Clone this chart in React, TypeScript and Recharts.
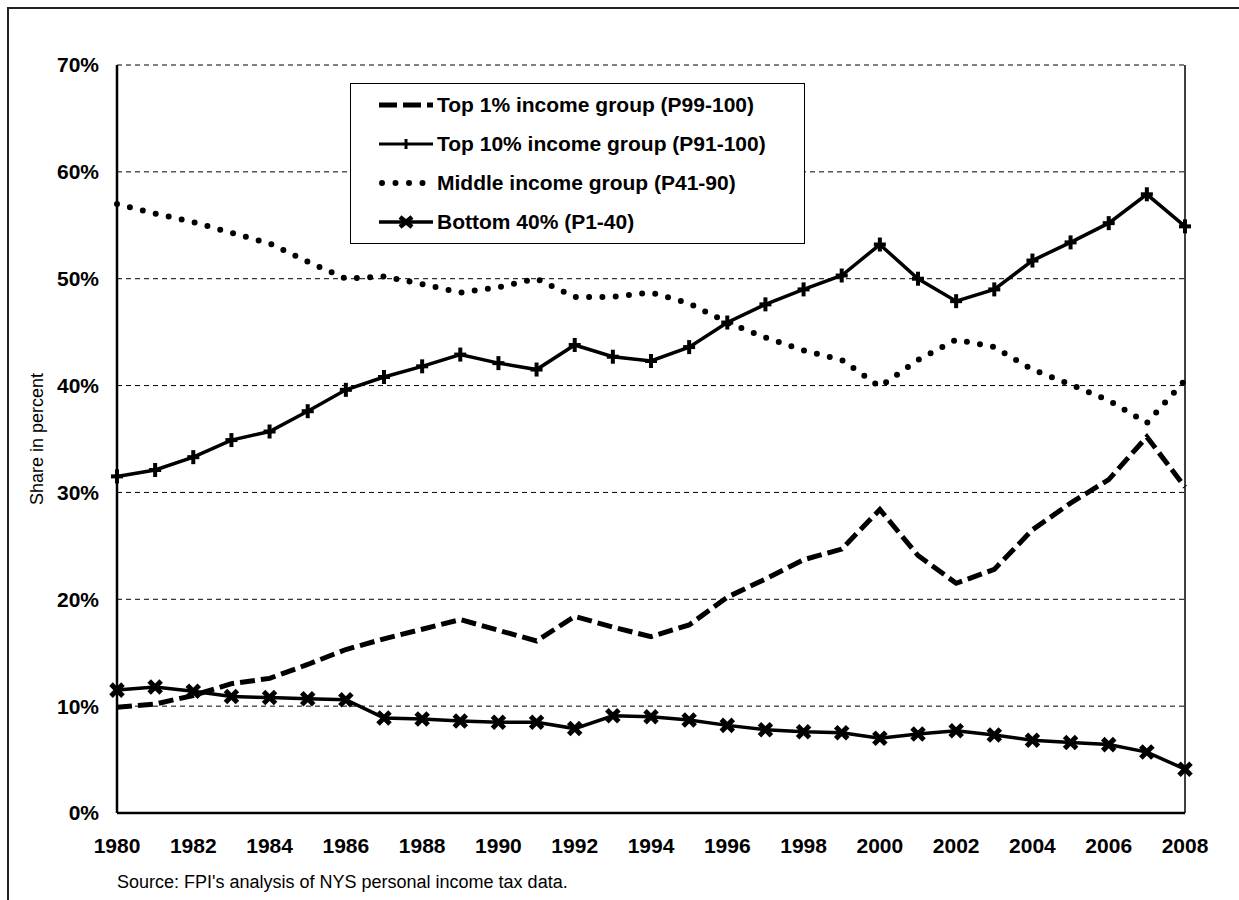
import React from 'react';
import { LineChart, Line, XAxis, YAxis, CartesianGrid, Legend, ReferenceLine } from 'recharts';

const years = [1980,1981,1982,1983,1984,1985,1986,1987,1988,1989,1990,1991,1992,1993,1994,1995,1996,1997,1998,1999,2000,2001,2002,2003,2004,2005,2006,2007,2008];
const top1 = [9.9,10.2,11.0,12.1,12.6,13.9,15.3,16.3,17.2,18.1,17.1,16.1,18.4,17.4,16.5,17.6,20.2,21.9,23.7,24.7,28.4,24.1,21.5,22.8,26.5,29.0,31.2,35.2,30.5];
const top10 = [31.5,32.1,33.3,34.9,35.7,37.6,39.6,40.8,41.8,42.9,42.1,41.5,43.8,42.7,42.3,43.6,45.9,47.6,49.0,50.3,53.2,50.0,47.9,49.0,51.7,53.4,55.2,57.9,54.9];
const middle = [57.0,56.1,55.3,54.3,53.3,51.6,50.0,50.2,49.5,48.7,49.2,50.0,48.3,48.3,48.7,47.7,45.9,44.5,43.3,42.4,39.9,42.4,44.3,43.6,41.5,40.1,38.6,36.5,40.5];
const bottom40 = [11.5,11.8,11.4,10.9,10.8,10.7,10.6,8.9,8.8,8.6,8.5,8.5,7.9,9.1,9.0,8.7,8.2,7.8,7.6,7.5,7.0,7.4,7.7,7.3,6.8,6.6,6.4,5.7,4.1];
const xTicks = [1980,1982,1984,1986,1988,1990,1992,1994,1996,1998,2000,2002,2004,2006,2008];
const yTicks = [0,10,20,30,40,50,60,70];
const seriesNames = ['Top 1% income group (P99-100)','Top 10% income group (P91-100)','Middle income group (P41-90)','Bottom 40% (P1-40)'];
const yLabel = 'Share in percent';
const sourceText = "Source: FPI's analysis of NYS personal income tax data.";

const data = years.map((y, i) => ({ year: y, top1: top1[i], top10: top10[i], middle: middle[i], bottom40: bottom40[i] }));

const FONT = '"Liberation Sans", Arial, sans-serif';

const PlusDot = (props: any) => {
  const { cx, cy, index } = props;
  if (cx == null || cy == null) return <g key={`pd-${index}`} />;
  return (
    <g key={`pd-${index}`}>
      <line x1={cx - 6} y1={cy} x2={cx + 6} y2={cy} stroke="#000" strokeWidth={4} />
      <line x1={cx} y1={cy - 7} x2={cx} y2={cy + 7} stroke="#000" strokeWidth={4} />
    </g>
  );
};

const XDot = (props: any) => {
  const { cx, cy, index } = props;
  if (cx == null || cy == null) return <g key={`xd-${index}`} />;
  const s = 6;
  return (
    <g key={`xd-${index}`}>
      <line x1={cx - s} y1={cy - s} x2={cx + s} y2={cy + s} stroke="#000" strokeWidth={5} />
      <line x1={cx - s} y1={cy + s} x2={cx + s} y2={cy - s} stroke="#000" strokeWidth={5} />
    </g>
  );
};

const LegendSymbol = ({ i }: { i: number }) => {
  const w = 54;
  const h = 20;
  const cy = h / 2;
  if (i === 0) {
    return (
      <svg width={w} height={h}>
        <line x1={0} y1={cy} x2={w} y2={cy} stroke="#000" strokeWidth={5} strokeDasharray="18 6 18 6 6" />
      </svg>
    );
  }
  if (i === 1) {
    return (
      <svg width={w} height={h}>
        <line x1={0} y1={cy} x2={w} y2={cy} stroke="#000" strokeWidth={3} />
        <line x1={w / 2} y1={cy - 5} x2={w / 2} y2={cy + 5} stroke="#000" strokeWidth={3} />
      </svg>
    );
  }
  if (i === 2) {
    return (
      <svg width={w} height={h}>
        <line x1={3} y1={cy} x2={w} y2={cy} stroke="#000" strokeWidth={6} strokeDasharray="0 13.5" strokeLinecap="round" />
      </svg>
    );
  }
  return (
    <svg width={w} height={h}>
      <line x1={0} y1={cy} x2={w} y2={cy} stroke="#000" strokeWidth={3.5} />
      <line x1={w / 2 - 6} y1={cy - 5} x2={w / 2 + 6} y2={cy + 5} stroke="#000" strokeWidth={4.5} />
      <line x1={w / 2 - 6} y1={cy + 5} x2={w / 2 + 6} y2={cy - 5} stroke="#000" strokeWidth={4.5} />
    </svg>
  );
};

const LegendBox = () => (
  <div style={{ width: 453, height: 158, border: '1.5px solid #000', background: '#fff', boxSizing: 'content-box', paddingTop: 1 }}>
    {seriesNames.map((n, i) => (
      <div key={n} style={{ display: 'flex', alignItems: 'center', height: 39, paddingLeft: 28 }}>
        <LegendSymbol i={i} />
        <span style={{ marginLeft: 4, fontFamily: FONT, fontWeight: 'bold', fontSize: 21, color: '#000', whiteSpace: 'nowrap' }}>{n}</span>
      </div>
    ))}
  </div>
);

const YLabel = (props: any) => {
  const vb = props.viewBox || {};
  const cy = (vb.y || 0) + (vb.height || 0) / 2;
  return (
    <text x={37} y={cy} transform={`rotate(-90, 37, ${cy})`} textAnchor="middle" dominantBaseline="central" fontFamily={FONT} fontSize={18} fill="#000">
      {yLabel}
    </text>
  );
};

export default function App() {
  return (
    <div style={{ position: 'absolute', left: 0, top: 0, width: 1239, height: 900, background: '#fff', overflow: 'hidden', fontFamily: FONT }}>
      <div style={{ position: 'absolute', left: 7, top: 7, width: 1300, height: 1000, borderLeft: '2px solid #222', borderTop: '2px solid #222' }} />
      <div style={{ position: 'absolute', left: 0, top: 0 }}>
        <LineChart width={1239} height={900} data={data} margin={{ top: 65, right: 54, bottom: 47, left: 0 }}>
          <CartesianGrid horizontal={true} vertical={false} stroke="#000" strokeWidth={1} strokeDasharray="5 4" />
          <XAxis
            dataKey="year"
            type="number"
            domain={[1980, 2008]}
            ticks={xTicks}
            interval={0}
            height={40}
            tickLine={false}
            tickSize={0}
            tickMargin={25}
            axisLine={{ stroke: '#000', strokeWidth: 2.5 }}
            tick={{ fontFamily: FONT, fontWeight: 'bold', fontSize: 21, fill: '#000' }}
          />
          <YAxis
            type="number"
            domain={[0, 70]}
            ticks={yTicks}
            interval={0}
            width={117}
            tickLine={false}
            tickSize={0}
            tickMargin={18}
            axisLine={{ stroke: '#000', strokeWidth: 2.5 }}
            tickFormatter={(v: number) => `${v}%`}
            tick={{ fontFamily: FONT, fontWeight: 'bold', fontSize: 21, fill: '#000' }}
            label={<YLabel />}
          />
          <ReferenceLine x={2008} stroke="#000" strokeWidth={1.5} />
          <Line type="linear" dataKey="middle" stroke="#000" strokeWidth={6} strokeDasharray="0 13.3" strokeLinecap="round" dot={false} isAnimationActive={false} />
          <Line type="linear" dataKey="top1" stroke="#000" strokeWidth={5} strokeDasharray="15 6" dot={false} isAnimationActive={false} />
          <Line type="linear" dataKey="top10" stroke="#000" strokeWidth={3.5} dot={(p: any) => <PlusDot key={`pd-${p.index}`} {...p} />} isAnimationActive={false} />
          <Line type="linear" dataKey="bottom40" stroke="#000" strokeWidth={3.5} dot={(p: any) => <XDot key={`xd-${p.index}`} {...p} />} isAnimationActive={false} />
          <Legend layout="vertical" verticalAlign="middle" align="center" content={() => <LegendBox />} wrapperStyle={{ left: 350, top: 83, width: 456, height: 162 }} />
        </LineChart>
      </div>
      <div style={{ position: 'absolute', left: 117, top: 872, fontFamily: FONT, fontSize: 18, color: '#000', whiteSpace: 'nowrap' }}>{sourceText}</div>
    </div>
  );
}
